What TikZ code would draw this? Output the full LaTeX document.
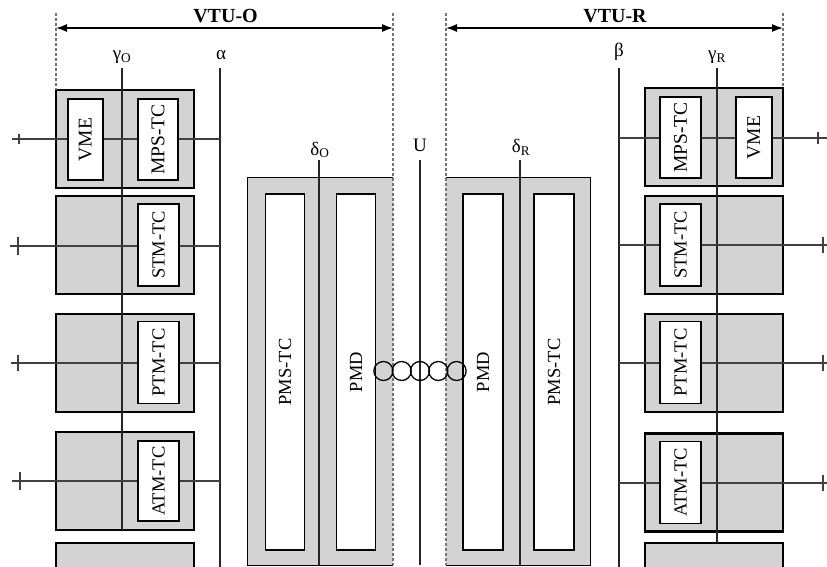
\documentclass[tikz,border=0pt]{standalone}
\usepackage{fontspec}
\setmainfont{Liberation Serif}
\usetikzlibrary{arrows.meta}
\definecolor{boxgray}{RGB}{211,211,211}
\definecolor{dashgray}{RGB}{115,115,115}
\begin{document}
\begin{tikzpicture}[x=1pt,y=-1pt,
  outerbox/.style={draw=black, fill=boxgray, line width=2.2pt, inner sep=0pt, minimum width=138pt, minimum height=98pt},
  innerbox/.style={draw=black, fill=white, line width=1.6pt, inner sep=0pt, rotate=90, minimum height=40pt, minimum width=81pt, font=\fontsize{18.5}{20}\selectfont},
  topinner/.style={innerbox, font=\fontsize{19.5}{21}\selectfont},
  bigfill/.style={fill=boxgray, inner sep=0pt, minimum height=387pt},
  bigin/.style={draw=black, fill=white, line width=1.3pt, inner sep=0pt, rotate=90, minimum width=356pt, minimum height=39pt, font=\fontsize{18.5}{20}\selectfont},
  edge/.style={line width=1.3pt, black},
  bus/.style={line width=1.5pt, black!85},
  sig/.style={line width=1.4pt, black!75},
  guide/.style={dashgray, line width=1.1pt, dash pattern=on 3pt off 2pt},
  dimline/.style={line width=1.3pt, {Latex[length=11pt,width=8pt]}-{Latex[length=11pt,width=8pt]}},
  lab/.style={font=\fontsize{19}{21}\selectfont, anchor=base, inner sep=0pt},
  vtu/.style={font=\fontsize{20}{22}\selectfont\bfseries, anchor=base, inner sep=0pt},
  coil/.style={draw, circle, line width=1.3pt, minimum size=19pt, inner sep=0pt},
]
\path[use as bounding box] (0,0) rectangle (827,567);
\clip (0,0) rectangle (827,567);

% ---------- dimension arrows ----------
\coordinate (aoL) at (56,28);  \coordinate (aoR) at (393,28);
\coordinate (arL) at (446,28); \coordinate (arR) at (783,28);
\draw[dimline] (aoL) -- (aoR);
\draw[dimline] (arL) -- (arR);
\node[vtu] (vtuo) at (225.5,23) {VTU-O};
\node[vtu] (vtur) at (615,23) {VTU-R};

% ---------- outer boxes left ----------
\node[outerbox] (o1) at (125,139) {};
\node[outerbox] (o2) at (125,245) {};
\node[outerbox] (o3) at (125,363) {};
\node[outerbox] (o4) at (125,481) {};
\node[outerbox] (o5) at (125,592) {};
% ---------- outer boxes right ----------
\node[outerbox] (r1) at (714,137) {};
\node[outerbox] (r2) at (714,245) {};
\node[outerbox] (r3) at (714,363) {};
\node[outerbox] (r4) at (714,482.5) {};
\node[outerbox] (r5) at (714,592) {};

% ---------- vertical buses ----------
\coordinate (gOt) at (122,68);  \coordinate (gOb) at (122,530);
\coordinate (alt) at (220,68);  \coordinate (alb) at (220,567);
\coordinate (bet) at (619,68);  \coordinate (beb) at (619,567);
\coordinate (gRt) at (717,68);  \coordinate (gRb) at (717,543);
\draw[bus] (gOt) -- (gOb);
\draw[bus] (alt) -- (alb);
\draw[bus] (bet) -- (beb);
\draw[bus] (gRt) -- (gRb);
\node[lab] (lgO) at (122,60) {γ\textsubscript{O}};
\node[lab] (lal) at (221,60) {α};
\node[lab] (lbe) at (619,57) {β};
\node[lab] (lgR) at (717,60) {γ\textsubscript{R}};

% ---------- signal lines left ----------
\coordinate (e1) at (12,139); \coordinate (t1) at (19,139);
\coordinate (e2) at (10,246); \coordinate (t2) at (18,246);
\coordinate (e3) at (11,363); \coordinate (t3) at (18,363);
\coordinate (e4) at (12,481); \coordinate (t4) at (20,481);
\draw[sig] (e1) -- (e1 -| alt);
\draw[sig] (e2) -- (e2 -| alt);
\draw[sig] (e3) -- (e3 -| alt);
\draw[sig] (e4) -- (e4 -| alt);
\draw[sig] (t1) ++(0,-5) -- ++(0,10);
\draw[sig] (t2) ++(0,-9) -- ++(0,18);
\draw[sig] (t3) ++(0,-8) -- ++(0,16);
\draw[sig] (t4) ++(0,-9) -- ++(0,18);
% ---------- signal lines right ----------
\coordinate (f1) at (827,138); \coordinate (u1) at (818,138);
\coordinate (f2) at (827,245); \coordinate (u2) at (823,245);
\coordinate (f3) at (827,363); \coordinate (u3) at (823,363);
\coordinate (f4) at (827,483); \coordinate (u4) at (823,483);
\draw[sig] (f1 -| bet) -- (f1);
\draw[sig] (f2 -| bet) -- (f2);
\draw[sig] (f3 -| bet) -- (f3);
\draw[sig] (f4 -| bet) -- (f4);
\draw[sig] (u1) ++(0,-6) -- ++(0,12);
\draw[sig] (u2) ++(0,-8) -- ++(0,16);
\draw[sig] (u3) ++(0,-8) -- ++(0,16);
\draw[sig] (u4) ++(0,-8) -- ++(0,16);

% ---------- inner boxes left ----------
\node[topinner, minimum height=35pt] (vmeL) at (85.5,139.5) {VME};
\node[topinner] (mpsL) at (158,139.5) {MPS-TC};
\node[innerbox, minimum width=82pt, minimum height=41pt] (stmL) at (158.5,245) {STM-TC};
\node[innerbox, minimum width=82pt, minimum height=41pt] (ptmL) at (158.5,362.5) {PTM-TC};
\node[innerbox, minimum width=80pt, minimum height=41pt] (atmL) at (158.5,481) {ATM-TC};
% ---------- inner boxes right ----------
\node[topinner, minimum height=41pt] (mpsR) at (680.5,137.5) {MPS-TC};
\node[topinner, minimum height=36pt] (vmeR) at (754,137.5) {VME};
\node[innerbox, minimum width=82pt, minimum height=41pt] (stmR) at (680.5,245) {STM-TC};
\node[innerbox, minimum width=82pt, minimum height=41pt] (ptmR) at (680.5,362.5) {PTM-TC};
\node[innerbox, minimum width=82pt, minimum height=41pt] (atmR) at (680.5,482.5) {ATM-TC};

% ---------- central PMD / PMS-TC blocks ----------
\node[bigfill, minimum width=145pt] (bl) at (320.5,371.5) {};
\node[bigfill, minimum width=144pt] (br) at (518,371.5) {};
\draw[edge] (bl.north east) -- (bl.north west) -- (bl.south west) -- (bl.south east);
\draw[edge] (br.north west) -- (br.north east) -- (br.south east) -- (br.south west);

\coordinate (dOt) at (319,160); \coordinate (dOb) at (319,565);
\coordinate (Ut)  at (420,160); \coordinate (Ub)  at (420,565);
\coordinate (dRt) at (520,160); \coordinate (dRb) at (520,565);
\draw[bus] (dOt) -- (dOb);
\draw[bus] (Ut) -- (Ub);
\draw[bus] (dRt) -- (dRb);
\node[lab] (ldO) at (320,155) {δ\textsubscript{O}};
\node[lab, font=\fontsize{19}{21}\selectfont] (lU) at (420,152) {U};
\node[lab] (ldR) at (521,153) {δ\textsubscript{R}};

\node[bigin] (pmsL) at (285,372) {PMS-TC};
\node[bigin] (pmdL) at (356,372) {PMD};
\node[bigin, minimum height=40pt] (pmdR) at (483,372) {PMD};
\node[bigin, minimum height=40pt] (pmsR) at (554,372) {PMS-TC};

% ---------- dashed guides ----------
\coordinate (gl1) at (56,13);  \coordinate (gl2) at (56,90);
\coordinate (gm1) at (393,13); \coordinate (gm2) at (393,565);
\coordinate (gn1) at (446,13); \coordinate (gn2) at (446,565);
\coordinate (gr1) at (783,13); \coordinate (gr2) at (783,88);
\coordinate (gr3) at (783,543); \coordinate (gr4) at (783,567);
\draw[guide] (gl1) -- (gl2);
\draw[guide] (gm1) -- (gm2);
\draw[guide] (gn1) -- (gn2);
\draw[guide] (gr1) -- (gr2);

% ---------- line coupling (coils) ----------
\node[coil] (c1) at (383.4,371) {};
\node[coil] (c2) at (401.7,371) {};
\node[coil] (c3) at (420,371) {};
\node[coil] (c4) at (438.3,371) {};
\node[coil] (c5) at (456.6,371) {};
\end{tikzpicture}
\end{document}
